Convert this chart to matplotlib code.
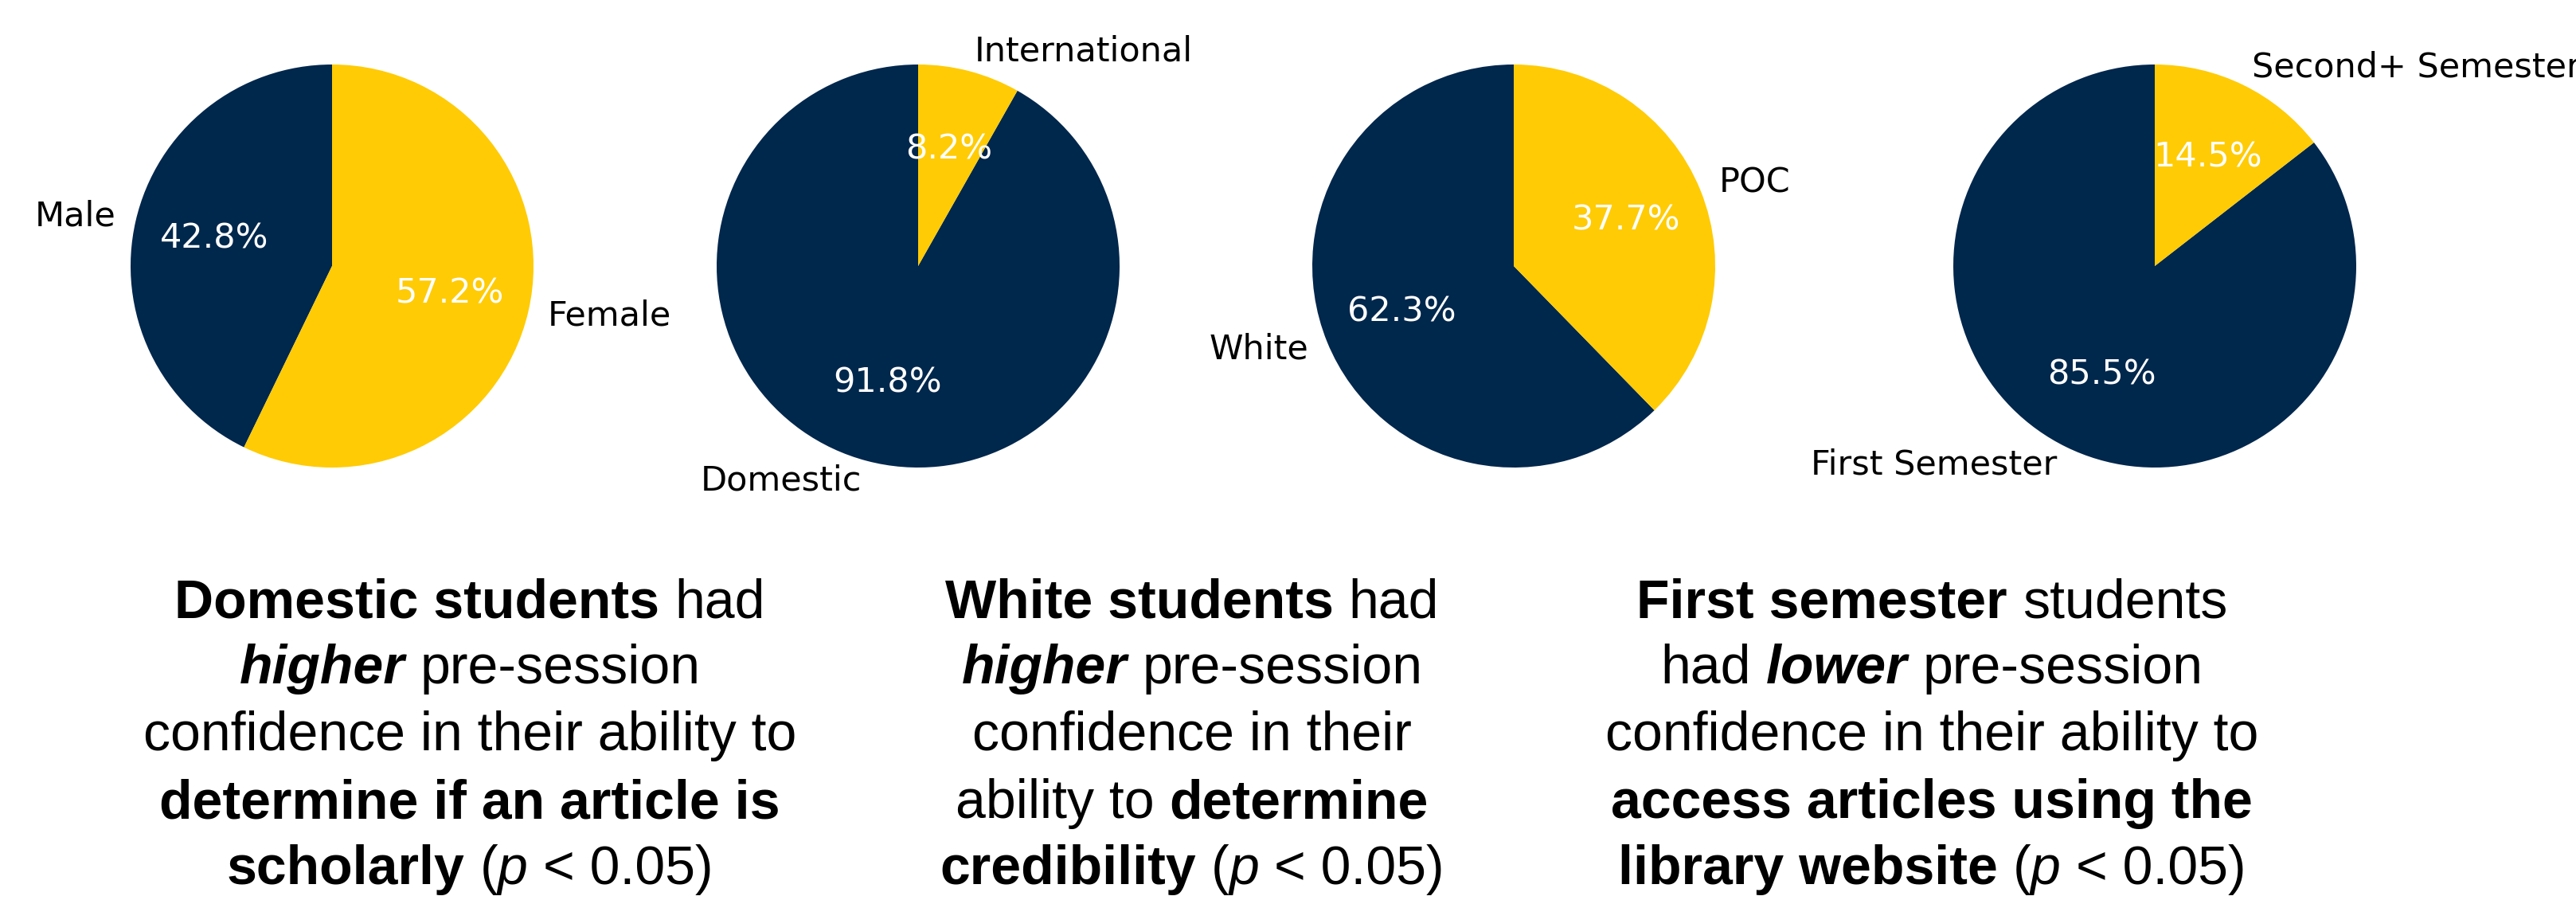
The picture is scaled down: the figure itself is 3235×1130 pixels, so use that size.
import matplotlib.pyplot as plt

# colours
navy = '#00274C'
maize = '#FFCB05'

# pie data (first slice is drawn from 12 o'clock, counter-clockwise)
gender_labels = ['Male', 'Female']
gender_pct = [42.8, 57.2]
residency_labels = ['Domestic', 'International']
residency_pct = [91.8, 8.2]
race_labels = ['White', 'POC']
race_pct = [62.3, 37.7]
semester_labels = ['First Semester', 'Second+ Semester']
semester_pct = [85.5, 14.5]

# findings text: each line is a list of (text, style) runs
# style: n = normal, b = bold, i = italic, bi = bold italic
finding_domestic = [
    [('Domestic students', 'b'), (' had', 'n')],
    [('higher', 'bi'), (' pre-session', 'n')],
    [('confidence in their ability to', 'n')],
    [('determine if an article is', 'b')],
    [('scholarly', 'b'), (' (', 'n'), ('p', 'i'), (' < 0.05)', 'n')],
]
finding_white = [
    [('White students', 'b'), (' had', 'n')],
    [('higher', 'bi'), (' pre-session', 'n')],
    [('confidence in their', 'n')],
    [('ability to', 'n'), (' determine', 'b')],
    [('credibility', 'b'), (' (', 'n'), ('p', 'i'), (' < 0.05)', 'n')],
]
finding_semester = [
    [('First semester', 'b'), (' students', 'n')],
    [('had', 'n'), (' lower', 'bi'), (' pre-session', 'n')],
    [('confidence in their ability to', 'n')],
    [('access articles using the', 'b')],
    [('library website', 'b'), (' (', 'n'), ('p', 'i'), (' < 0.05)', 'n')],
]

W, H = 3235, 1130
fig = plt.figure(figsize=(W / 100, H / 100), dpi=100)
fig.patch.set_facecolor('white')

## pies
pie_x = [417, 1153, 1901, 2706]
pie_y = 334
radius = 253
side = 2.5 * radius

pies = [(gender_labels, gender_pct), (residency_labels, residency_pct),
        (race_labels, race_pct), (semester_labels, semester_pct)]

for cx, (labels, vals) in zip(pie_x, pies):
    ax = fig.add_axes([(cx - side / 2) / W, (H - pie_y - side / 2) / H, side / W, side / H])
    wedges, texts, autotexts = ax.pie(vals, labels=labels, colors=[navy, maize],
                                      autopct='%1.1f%%', startangle=90,
                                      textprops={'fontsize': 31, 'family': 'DejaVu Sans'})
    for t in autotexts:
        t.set_color('white')

## findings text
body_size = 49
em_px = body_size * 100 / 72
space_px = 0.2778 * em_px
block_x = [590, 1497, 2426]
baselines = [775, 858, 942, 1027, 1110]

styles = {'n': ('normal', 'normal'), 'b': ('bold', 'normal'),
          'i': ('normal', 'italic'), 'bi': ('bold', 'italic')}

renderer = fig.canvas.get_renderer()

for bx, block in zip(block_x, [finding_domestic, finding_white, finding_semester]):
    for by, line in zip(baselines, block):
        items = []
        total = 0
        for txt, st in line:
            gap = space_px if txt.startswith(' ') else 0
            weight, style = styles[st]
            t = fig.text(0, 1 - by / H, txt.strip(), fontsize=body_size,
                         family='Liberation Sans', fontweight=weight, fontstyle=style,
                         ha='left', va='baseline', color='black')
            w = t.get_window_extent(renderer).width
            items.append((t, gap, w))
            total += gap + w
        x = bx - total / 2
        for t, gap, w in items:
            x += gap
            t.set_x(x / W)
            x += w

fig.savefig('out.png', dpi=100, facecolor='white')
